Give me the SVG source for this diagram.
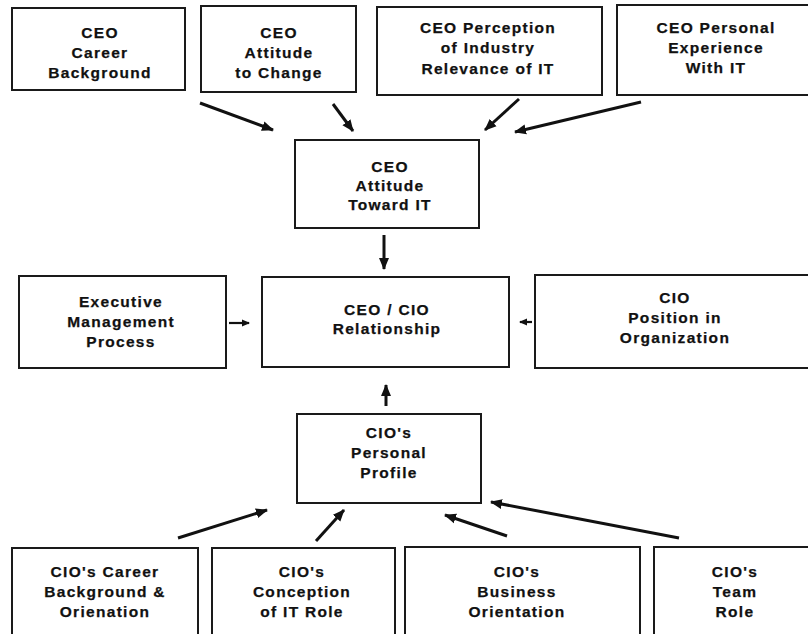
<svg xmlns="http://www.w3.org/2000/svg" width="808" height="634" viewBox="0 0 808 634">
<defs>
<style>
.box{fill:#fff;stroke:#1a1a1a;stroke-width:2}
.t{font-family:"Liberation Sans",Arial,Helvetica,sans-serif;font-weight:bold;font-size:15.5px;letter-spacing:1.3px;fill:#111;stroke:#111;stroke-width:0.25;text-anchor:middle}
.c{stroke:#111;stroke-width:3;fill:none;marker-end:url(#ah)}
.cs{stroke:#111;stroke-width:2.2;fill:none;marker-end:url(#ahs)}
</style>
<marker id="ah" markerUnits="userSpaceOnUse" markerWidth="13" markerHeight="11" refX="11" refY="5.5" orient="auto">
<path d="M0,0.5 L12,5.5 L0,10.5 Z" fill="#111"/>
</marker>
<marker id="ahs" markerUnits="userSpaceOnUse" markerWidth="8" markerHeight="8" refX="7" refY="4" orient="auto">
<path d="M0,0.5 L8,4 L0,7.5 Z" fill="#111"/>
</marker>
</defs>
<rect width="808" height="634" fill="#fff"/>

<g id="ceo-career">
<rect class="box" x="12" y="8" width="173" height="82"/>
<text class="t" x="100" y="38">CEO</text>
<text class="t" x="100" y="58">Career</text>
<text class="t" x="100" y="78">Background</text>
</g>
<g id="ceo-attitude-change">
<rect class="box" x="201" y="6" width="155" height="86"/>
<text class="t" x="279" y="38">CEO</text>
<text class="t" x="279" y="58">Attitude</text>
<text class="t" x="279" y="78">to Change</text>
</g>
<g id="ceo-perception">
<rect class="box" x="377" y="7" width="225" height="88"/>
<text class="t" x="488" y="33">CEO Perception</text>
<text class="t" x="488" y="53">of Industry</text>
<text class="t" x="488" y="74">Relevance of IT</text>
</g>
<g id="ceo-experience">
<rect class="box" x="617" y="5" width="200" height="90"/>
<text class="t" x="716" y="33">CEO Personal</text>
<text class="t" x="716" y="53">Experience</text>
<text class="t" x="716" y="73">With IT</text>
</g>
<g id="ceo-attitude-it">
<rect class="box" x="295" y="140" width="184" height="88"/>
<text class="t" x="390" y="172">CEO</text>
<text class="t" x="390" y="191">Attitude</text>
<text class="t" x="390" y="210">Toward IT</text>
</g>
<g id="exec-mgmt">
<rect class="box" x="19" y="276" width="207" height="92"/>
<text class="t" x="121" y="307">Executive</text>
<text class="t" x="121" y="327">Management</text>
<text class="t" x="121" y="347">Process</text>
</g>
<g id="ceo-cio-rel">
<rect class="box" x="262" y="277" width="247" height="90"/>
<text class="t" x="387" y="315">CEO / CIO</text>
<text class="t" x="387" y="334">Relationship</text>
</g>
<g id="cio-position">
<rect class="box" x="535" y="275" width="282" height="93"/>
<text class="t" x="675" y="303">CIO</text>
<text class="t" x="675" y="323">Position in</text>
<text class="t" x="675" y="343">Organization</text>
</g>
<g id="cio-profile">
<rect class="box" x="297" y="414" width="184" height="89"/>
<text class="t" x="389" y="438">CIO's</text>
<text class="t" x="389" y="458">Personal</text>
<text class="t" x="389" y="478">Profile</text>
</g>
<g id="cio-career">
<rect class="box" x="12" y="548" width="186" height="95"/>
<text class="t" x="105" y="577">CIO's Career</text>
<text class="t" x="105" y="597">Background &amp;</text>
<text class="t" x="105" y="617">Orienation</text>
</g>
<g id="cio-conception">
<rect class="box" x="212" y="548" width="183" height="95"/>
<text class="t" x="302" y="577">CIO's</text>
<text class="t" x="302" y="597">Conception</text>
<text class="t" x="302" y="617">of IT Role</text>
</g>
<g id="cio-business">
<rect class="box" x="405" y="547" width="235" height="95"/>
<text class="t" x="517" y="577">CIO's</text>
<text class="t" x="517" y="597">Business</text>
<text class="t" x="517" y="617">Orientation</text>
</g>
<g id="cio-team">
<rect class="box" x="654" y="547" width="170" height="95"/>
<text class="t" x="735" y="577">CIO's</text>
<text class="t" x="735" y="597">Team</text>
<text class="t" x="735" y="617">Role</text>
</g>

<g id="connectors">
<line class="c" x1="200" y1="103" x2="273" y2="130"/>
<line class="c" x1="333" y1="104" x2="353" y2="131"/>
<line class="c" x1="519" y1="99" x2="485" y2="130"/>
<line class="c" x1="641" y1="102" x2="515" y2="132"/>
<line class="c" x1="384" y1="235" x2="384" y2="269"/>
<line class="cs" x1="229" y1="323" x2="249" y2="323"/>
<line class="cs" x1="532" y1="322" x2="520" y2="322"/>
<line class="c" x1="386" y1="406" x2="386" y2="385"/>
<line class="c" x1="178" y1="538" x2="267" y2="510"/>
<line class="c" x1="316" y1="541" x2="344" y2="510"/>
<line class="c" x1="507" y1="536" x2="445" y2="515"/>
<line class="c" x1="679" y1="538" x2="491" y2="502"/>
</g>
</svg>
